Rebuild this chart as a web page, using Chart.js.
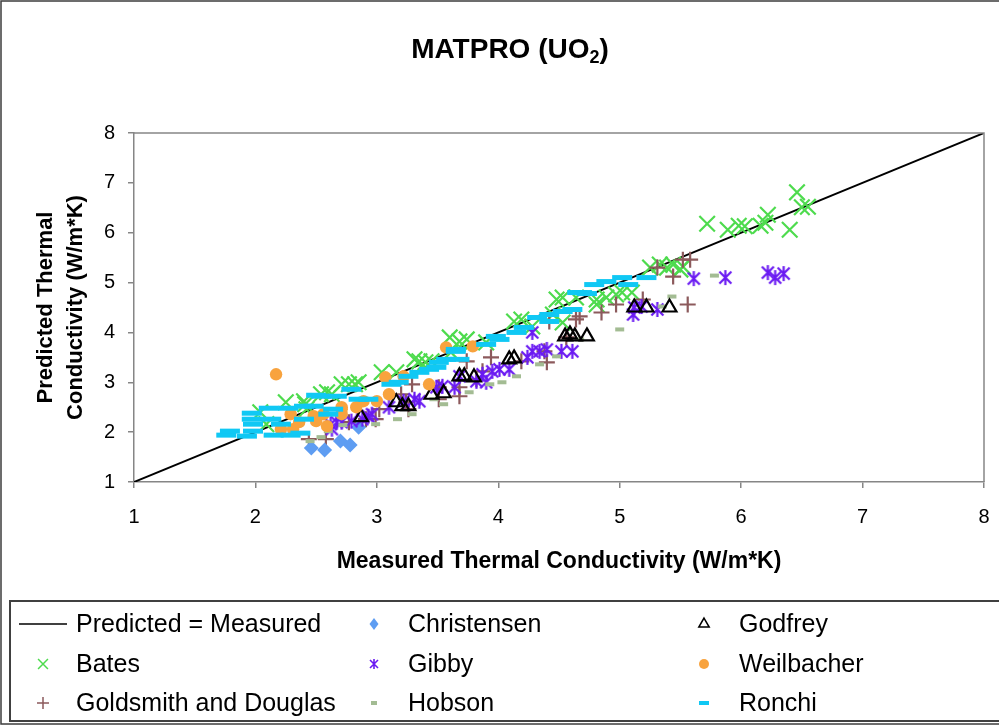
<!DOCTYPE html>
<html>
<head>
<meta charset="utf-8">
<script src="https://cdn.jsdelivr.net/npm/chart.js@4.4.1/dist/chart.umd.min.js"></script>
<style>
  html, body { margin: 0; padding: 0; background: #fff; }
  #wrap { position: relative; width: 999px; height: 727px; }
</style>
</head>
<body>
<div id="wrap"><canvas id="chart"></canvas></div>
<script>
// Predicted vs measured thermal conductivity, W/m*K
const lineX = [1, 8];
const lineY = [1, 8];

const batesX = [2.04, 2.09, 2.25, 2.40, 2.41, 2.42, 2.54, 2.59, 2.63, 2.71, 2.77, 2.82, 2.85, 3.04, 3.16, 3.31, 3.35, 3.40, 3.45, 3.60, 3.61, 3.68, 3.74, 3.90, 4.13, 4.19, 4.28, 4.45, 4.48, 4.53, 4.53, 4.64, 4.81, 4.81, 4.89, 4.97, 5.02, 5.10, 5.25, 5.33, 5.39, 5.44, 5.50, 5.52, 5.72, 5.89, 5.98, 6.03, 6.16, 6.20, 6.22, 6.40, 6.46, 6.50, 6.55];
const batesY = [2.40, 2.16, 2.60, 2.62, 2.56, 2.46, 2.76, 2.80, 2.76, 2.96, 2.96, 2.96, 3.00, 3.20, 3.20, 3.46, 3.42, 3.40, 3.42, 3.90, 3.60, 3.82, 3.86, 3.80, 4.22, 4.26, 4.12, 4.36, 4.66, 4.70, 4.20, 4.70, 4.66, 4.56, 4.70, 4.76, 4.80, 4.80, 5.30, 5.36, 5.30, 5.36, 5.26, 5.32, 6.18, 6.06, 6.14, 6.13, 6.14, 6.20, 6.36, 6.06, 6.81, 6.51, 6.52];

const goldsmithX = [2.44, 2.58, 2.77, 2.91, 2.99, 3.02, 3.20, 3.24, 3.26, 3.29, 3.51, 3.51, 3.68, 3.68, 3.74, 3.82, 3.87, 3.94, 4.19, 4.38, 4.40, 4.42, 4.56, 4.64, 4.67, 4.85, 4.97, 5.19, 5.31, 5.44, 5.52, 5.56, 5.58];
const goldsmithY = [1.86, 1.86, 2.20, 2.26, 2.26, 2.46, 2.76, 2.60, 2.46, 2.96, 2.90, 2.66, 2.72, 2.90, 3.42, 3.06, 3.22, 3.50, 3.42, 3.62, 3.40, 4.22, 3.90, 4.26, 4.32, 4.40, 4.56, 4.66, 5.30, 5.12, 5.46, 4.56, 5.46];

const christensenX = [2.46, 2.57, 2.70, 2.78, 2.85];
const christensenY = [1.68, 1.64, 1.82, 1.74, 2.10];

const gibbyX = [2.62, 2.63, 2.67, 2.71, 2.79, 2.88, 2.93, 2.96, 3.10, 3.22, 3.31, 3.35, 3.49, 3.54, 3.64, 3.68, 3.82, 3.87, 3.90, 3.95, 4.01, 4.09, 4.24, 4.28, 4.28, 4.34, 4.40, 4.52, 4.61, 5.11, 5.12, 5.18, 5.31, 5.61, 5.87, 6.22, 6.28, 6.35];
const gibbyY = [2.16, 2.06, 2.20, 2.20, 2.22, 2.26, 2.32, 2.36, 2.50, 2.62, 2.66, 2.62, 2.90, 2.92, 2.90, 3.12, 3.02, 3.16, 3.00, 3.22, 3.26, 3.26, 3.50, 4.00, 3.62, 3.62, 3.66, 3.62, 3.62, 4.36, 4.50, 4.52, 4.46, 5.08, 5.10, 5.20, 5.10, 5.18];

const hobsonX = [2.45, 2.54, 2.60, 2.72, 2.99, 3.17, 3.29, 3.47, 3.55, 3.76, 3.93, 4.03, 4.15, 4.34, 4.48, 4.67, 5.00, 5.35, 5.43, 5.78];
const hobsonY = [1.82, 1.90, 2.02, 2.14, 2.16, 2.26, 2.36, 2.66, 2.56, 2.80, 2.96, 3.00, 3.12, 3.36, 3.52, 3.86, 4.06, 4.52, 4.72, 5.14];

const godfreyX = [2.87, 3.16, 3.21, 3.26, 3.45, 3.55, 3.68, 3.72, 3.80, 4.09, 4.13, 4.55, 4.59, 4.63, 4.73, 5.12, 5.22, 5.41];
const godfreyY = [2.30, 2.60, 2.52, 2.52, 2.75, 2.78, 3.12, 3.12, 3.10, 3.46, 3.48, 3.92, 3.96, 3.92, 3.92, 4.50, 4.50, 4.50];

const weilbacherX = [2.17, 2.21, 2.29, 2.31, 2.36, 2.48, 2.50, 2.56, 2.59, 2.71, 2.71, 2.71, 2.83, 2.89, 3.00, 3.07, 3.10, 3.22, 3.43, 3.57, 3.79];
const weilbacherY = [3.16, 2.06, 2.36, 2.06, 2.20, 2.32, 2.22, 2.36, 2.12, 2.50, 2.46, 2.36, 2.50, 2.62, 2.62, 3.10, 2.76, 3.12, 2.96, 3.70, 3.72];

const ronchiX = [1.76, 1.79, 1.93, 1.97, 1.97, 1.98, 1.98, 2.11, 2.13, 2.15, 2.21, 2.27, 2.29, 2.37, 2.40, 2.40, 2.48, 2.50, 2.54, 2.60, 2.64, 2.67, 2.79, 2.85, 2.93, 3.12, 3.18, 3.26, 3.35, 3.43, 3.49, 3.51, 3.57, 3.65, 3.65, 3.68, 3.90, 3.98, 4.01, 4.15, 4.21, 4.32, 4.42, 4.42, 4.53, 4.61, 4.65, 4.69, 4.73, 4.79, 4.89, 5.02, 5.07, 5.22];
const ronchiY = [1.94, 2.02, 1.92, 2.26, 2.38, 2.02, 2.16, 2.48, 2.26, 1.94, 2.16, 2.48, 1.94, 1.98, 2.52, 2.26, 2.52, 2.74, 2.72, 2.36, 2.46, 2.72, 2.86, 2.66, 2.66, 2.96, 3.00, 3.12, 3.20, 3.26, 3.30, 3.40, 3.46, 3.62, 3.66, 3.46, 3.76, 3.92, 3.86, 4.00, 4.10, 4.30, 4.36, 4.22, 4.42, 4.46, 4.80, 4.80, 4.78, 4.96, 5.02, 5.10, 4.96, 5.10];

const axisTicks = [1, 2, 3, 4, 5, 6, 7, 8];

const FONT = "'Liberation Sans', Arial, sans-serif";
const GRAY = "#868686";

function pts(xs, ys) {
  return xs.map((x, i) => ({ x, y: ys[i] }));
}

// Excel style asterisk: vertical bar plus an X
function makeAsterisk(size, color, lw) {
  const c = document.createElement("canvas");
  c.width = size;
  c.height = size;
  const g = c.getContext("2d");
  const m = size / 2;
  const r = size / 2 - 1;
  const d = r * 0.8;
  g.strokeStyle = color;
  g.lineWidth = lw;
  g.beginPath();
  g.moveTo(m, m - r);
  g.lineTo(m, m + r);
  g.moveTo(m - d, m - d);
  g.lineTo(m + d, m + d);
  g.moveTo(m + d, m - d);
  g.lineTo(m - d, m + d);
  g.stroke();
  return c;
}

const gibbyColor = "#6A1AF2";
const gibbyMark = makeAsterisk(17, gibbyColor, 2.2);
const gibbyLegendMark = makeAsterisk(12, gibbyColor, 1.6);

const series = [
  { label: "Predicted = Measured", xs: lineX, ys: lineY, line: true, color: "#000000" },
  { label: "Bates", xs: batesX, ys: batesY, style: "crossRot", color: "#4EDB4E", radius: 11, width: 2.2, legendRadius: 7, legendWidth: 1.5 },
  { label: "Goldsmith and Douglas", xs: goldsmithX, ys: goldsmithY, style: "cross", color: "#8C5A5C", radius: 8, width: 2.2, legendRadius: 6, legendWidth: 1.5 },
  { label: "Christensen", xs: christensenX, ys: christensenY, style: "rectRot", color: "#5E9DF2", fill: true, radius: 7.5, width: 0, legendRadius: 6, legendWidth: 0 },
  { label: "Gibby", xs: gibbyX, ys: gibbyY, style: gibbyMark, legendStyle: gibbyLegendMark, color: gibbyColor, radius: 8, width: 2 },
  { label: "Hobson", xs: hobsonX, ys: hobsonY, style: "line", color: "#A3BC93", radius: 4.5, width: 4, legendRadius: 3, legendWidth: 4 },
  { label: "Godfrey", xs: godfreyX, ys: godfreyY, style: "triangle", color: "#000000", radius: 8, width: 2.2, legendRadius: 6, legendWidth: 1.5 },
  { label: "Weilbacher", xs: weilbacherX, ys: weilbacherY, style: "circle", color: "#F8A33E", fill: true, radius: 6.2, width: 0, legendRadius: 5, legendWidth: 0 },
  { label: "Ronchi", xs: ronchiX, ys: ronchiY, style: "line", color: "#10C8F4", radius: 10, width: 5, legendRadius: 5, legendWidth: 4 },
];

const datasets = series.map((s, i) => {
  if (s.line) {
    return {
      label: s.label,
      data: pts(s.xs, s.ys),
      showLine: true,
      borderColor: s.color,
      borderWidth: 2,
      pointRadius: 0,
      order: series.length,
    };
  }
  return {
    label: s.label,
    data: pts(s.xs, s.ys),
    pointStyle: s.style,
    pointRadius: s.radius,
    pointBorderWidth: s.width,
    pointBorderColor: s.color,
    pointBackgroundColor: s.fill ? s.color : "rgba(0,0,0,0)",
    order: series.length - i,
  };
});

function drawMark(ctx, s, x, y) {
  ctx.save();
  if (s.line) {
    ctx.strokeStyle = s.color;
    ctx.lineWidth = 1.6;
    ctx.beginPath();
    ctx.moveTo(x - 24, y);
    ctx.lineTo(x + 24, y);
    ctx.stroke();
    ctx.restore();
    return;
  }
  const st = s.legendStyle || s.style;
  const r = s.legendRadius;
  ctx.strokeStyle = s.color;
  ctx.fillStyle = s.color;
  ctx.lineWidth = s.legendWidth;
  if (typeof st !== "string") {
    ctx.drawImage(st, x - st.width / 2, y - st.height / 2);
  } else if (st === "crossRot") {
    const d = r * Math.SQRT1_2;
    ctx.beginPath();
    ctx.moveTo(x - d, y - d); ctx.lineTo(x + d, y + d);
    ctx.moveTo(x + d, y - d); ctx.lineTo(x - d, y + d);
    ctx.stroke();
  } else if (st === "cross") {
    ctx.beginPath();
    ctx.moveTo(x - r, y); ctx.lineTo(x + r, y);
    ctx.moveTo(x, y - r); ctx.lineTo(x, y + r);
    ctx.stroke();
  } else if (st === "rectRot") {
    ctx.beginPath();
    ctx.moveTo(x, y - r); ctx.lineTo(x + r * 0.75, y);
    ctx.lineTo(x, y + r); ctx.lineTo(x - r * 0.75, y);
    ctx.closePath();
    ctx.fill();
  } else if (st === "line") {
    ctx.beginPath();
    ctx.moveTo(x - r, y); ctx.lineTo(x + r, y);
    ctx.stroke();
  } else if (st === "triangle") {
    ctx.beginPath();
    ctx.moveTo(x, y - r);
    ctx.lineTo(x + r * 0.866, y + r * 0.5);
    ctx.lineTo(x - r * 0.866, y + r * 0.5);
    ctx.closePath();
    ctx.stroke();
  } else if (st === "circle") {
    ctx.beginPath();
    ctx.arc(x, y, r, 0, Math.PI * 2);
    ctx.fill();
  }
  ctx.restore();
}

const framePlugin = {
  id: "frame",
  afterDraw(chart) {
    const ctx = chart.ctx;
    const a = chart.chartArea;
    ctx.save();

    // top and right edges of the plot area
    ctx.strokeStyle = GRAY;
    ctx.lineWidth = 1.5;
    ctx.beginPath();
    ctx.moveTo(a.left, a.top);
    ctx.lineTo(a.right, a.top);
    ctx.lineTo(a.right, a.bottom);
    ctx.stroke();

    // outer chart border
    ctx.strokeStyle = "#3c3c3c";
    ctx.lineWidth = 1.5;
    ctx.strokeRect(1, 1, 1100, 723);

    // title with subscript
    const main = "MATPRO (UO";
    ctx.fillStyle = "#000";
    ctx.textBaseline = "alphabetic";
    ctx.font = "bold 28px " + FONT;
    const w1 = ctx.measureText(main).width;
    const w3 = ctx.measureText(")").width;
    ctx.font = "bold 18px " + FONT;
    const w2 = ctx.measureText("2").width;
    let x = 510 - (w1 + w2 + w3) / 2;
    ctx.font = "bold 28px " + FONT;
    ctx.fillText(main, x, 58);
    x += w1;
    ctx.font = "bold 18px " + FONT;
    ctx.fillText("2", x, 63);
    x += w2;
    ctx.font = "bold 28px " + FONT;
    ctx.fillText(")", x, 58);

    // legend box
    ctx.strokeStyle = "#404040";
    ctx.lineWidth = 2;
    ctx.strokeRect(10, 601, 1100, 120);

    const colMark = [43, 374, 704];
    const colText = [76, 408, 739];
    const rowY = [624, 664, 703];
    ctx.font = "25px " + FONT;
    ctx.textBaseline = "middle";
    ctx.textAlign = "left";
    series.forEach((s, i) => {
      const col = Math.floor(i / 3);
      const row = i % 3;
      drawMark(ctx, s, colMark[col], rowY[row]);
      ctx.fillStyle = "#000";
      ctx.fillText(s.label, colText[col], rowY[row] + 1);
    });
    ctx.restore();
  },
};

const tickFont = { family: FONT, size: 20 };
const titleFont = { family: FONT, size: 23, weight: "bold" };

new Chart(document.getElementById("chart"), {
  type: "scatter",
  data: { datasets },
  options: {
    responsive: true,
    maintainAspectRatio: false,
    animation: false,
    layout: { padding: { top: 133, right: 15, left: 0, bottom: 0 } },
    plugins: {
      legend: { display: false },
      tooltip: { enabled: false },
      title: { display: false },
    },
    scales: {
      x: {
        type: "linear",
        min: axisTicks[0],
        max: axisTicks[axisTicks.length - 1],
        afterBuildTicks: (scale) => { scale.ticks = axisTicks.map((v) => ({ value: v })); },
        afterFit: (scale) => {
          scale.height = 245;
          scale.paddingLeft = 0;
          scale.paddingRight = 0;
        },
        ticks: { font: tickFont, color: "#000", padding: 17 },
        grid: { drawOnChartArea: false, drawTicks: true, tickLength: 6, color: GRAY, lineWidth: 1.5 },
        border: { display: true, color: GRAY, width: 1.5 },
        title: {
          display: true,
          text: "Measured Thermal Conductivity (W/m*K)",
          font: titleFont,
          color: "#000",
          padding: { top: 0, bottom: 152 },
        },
      },
      y: {
        type: "linear",
        min: axisTicks[0],
        max: axisTicks[axisTicks.length - 1],
        afterBuildTicks: (scale) => { scale.ticks = axisTicks.map((v) => ({ value: v })); },
        afterFit: (scale) => { scale.width = 134; },
        ticks: { font: tickFont, color: "#000", padding: 13 },
        grid: { drawOnChartArea: false, drawTicks: true, tickLength: 6, color: GRAY, lineWidth: 1.5 },
        border: { display: true, color: GRAY, width: 1.5 },
        title: {
          display: true,
          text: ["Predicted Thermal", "Conductivity (W/m*K)"],
          font: { family: FONT, size: 22, weight: "bold", lineHeight: 1.36 },
          color: "#000",
          padding: { top: 31, bottom: 0 },
        },
      },
    },
  },
  plugins: [framePlugin],
});
</script>
</body>
</html>
